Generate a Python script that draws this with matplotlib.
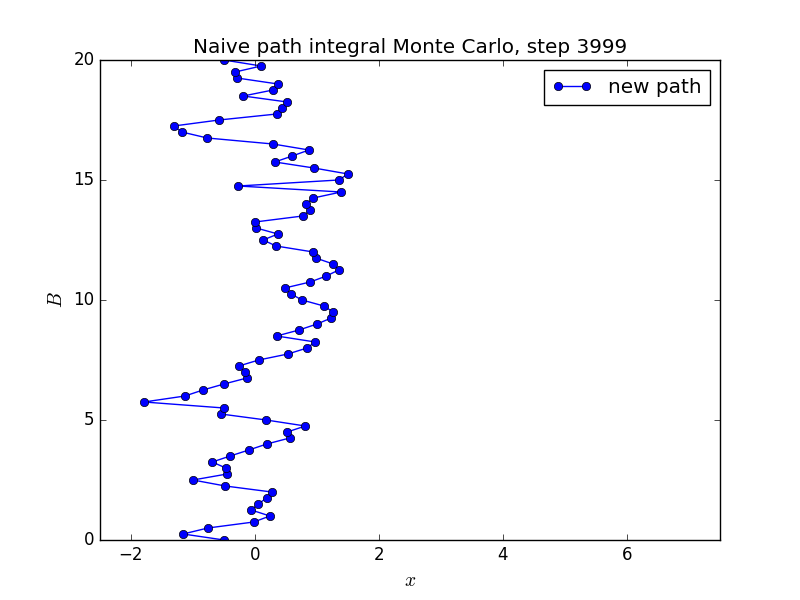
import numpy as np
import matplotlib
matplotlib.use("Agg")
import matplotlib.pyplot as plt

plt.style.use('classic')

# imaginary time slices
beta = [i * 0.25 for i in range(81)]
# path positions (bottom to top)
path_x = [-0.5, -1.16, -0.76, -0.02, 0.24, -0.06, 0.05, 0.19, 0.27, -0.48,
          -1.0, -0.45, -0.47, -0.69, -0.4, -0.1, 0.19, 0.56, 0.52, 0.81,
          0.18, -0.55, -0.5, -1.79, -1.13, -0.84, -0.5, -0.13, -0.16, -0.26,
          0.06, 0.53, 0.84, 0.97, 0.35, 0.71, 1.0, 1.23, 1.26, 1.11,
          0.76, 0.58, 0.48, 0.89, 1.15, 1.35, 1.26, 0.98, 0.94, 0.34,
          0.13, 0.37, 0.02, 0.0, 0.77, 0.89, 0.82, 0.94, 1.39, -0.27,
          1.35, 1.5, 0.95, 0.32, 0.6, 0.87, 0.29, -0.77, -1.18, -1.31,
          -0.58, 0.35, 0.44, 0.52, -0.19, 0.29, 0.37, -0.29, -0.32, 0.1,
          -0.5]

fig = plt.figure(figsize=(8, 6), dpi=100)
plt.plot(path_x, beta, 'bo-', label='new path')
plt.xlim(-2.5, 7.5)
plt.ylim(0, 20)
plt.xlabel('$x$', fontsize=14)
plt.ylabel('$B$', fontsize=14)
plt.title('Naive path integral Monte Carlo, step 3999')
plt.legend()
plt.savefig('out.png')
